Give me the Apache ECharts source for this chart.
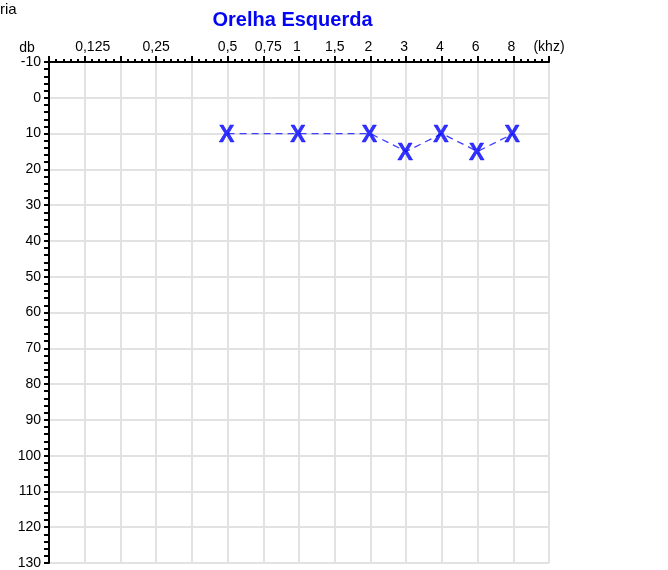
<!DOCTYPE html>
<html>
<head>
<meta charset="utf-8">
<script src="https://cdn.jsdelivr.net/npm/echarts@6/dist/echarts.min.js"></script>
<style>html,body{margin:0;padding:0;background:#fff;}#c{width:668px;height:570px;}</style>
</head>
<body>
<div id="c"></div>
<script>
const tickLabels = ['', '0,125', '', '0,25', '', '0,5', '0,75', '1', '1,5', '2', '3', '4', '6', '8', '(khz)'];
const freqs = ['0,5', '1', '2', '3', '4', '6', '8'];
const thresholds = [10, 10, 10, 15, 10, 15, 10];
const yMin = -10, yMax = 130, yStep = 10;

const points = freqs.map((f, i) => [tickLabels.indexOf(f), thresholds[i]]);
const FONT = 'Arial, "Liberation Sans", sans-serif';

const chart = echarts.init(document.getElementById('c'), null, {renderer: 'canvas'});
chart.setOption({
  animation: false,
  backgroundColor: '#fff',
  grid: {left: 49, top: 62, width: 500, height: 502, containLabel: false},
  graphic: [
    {type: 'text', left: 0, top: 2, style: {text: 'ria', font: '15px ' + FONT, fill: '#000'}},
    {type: 'text', x: 292.5, y: 20, style: {text: 'Orelha Esquerda', font: 'bold 20px ' + FONT, fill: '#0505f5', textAlign: 'center', textVerticalAlign: 'middle'}},
    {type: 'text', x: 27, y: 48, style: {text: 'db', font: '14px ' + FONT, fill: '#000', textAlign: 'center', textVerticalAlign: 'middle'}}
  ],
  xAxis: {
    type: 'value', position: 'top', min: 0, max: tickLabels.length - 1, interval: 1,
    axisLine: {show: true, onZero: false, lineStyle: {color: '#000', width: 2}},
    axisTick: {show: true, inside: false, length: 6, lineStyle: {color: '#000', width: 2}},
    minorTick: {show: true, splitNumber: 5, length: 3, lineStyle: {color: '#000', width: 2}},
    splitLine: {show: true, lineStyle: {color: '#e2e2e2', width: 2}},
    axisLabel: {
      margin: 8, color: '#000', fontSize: 14, fontFamily: FONT, showMinLabel: true, showMaxLabel: true,
      formatter: function (v) {
        const t = tickLabels[Math.round(v)] || '';
        if (t === '0,125') return '{r8|' + t + '}';
        if (t === '0,75') return '{r5|' + t + '}';
        if (t.length === 1) return '{l2|' + t + '}';
        return t;
      },
      rich: {
        r8: {fontSize: 14, fontFamily: FONT, color: '#000', padding: [0, 0, 0, 16]},
        r5: {fontSize: 14, fontFamily: FONT, color: '#000', padding: [0, 0, 0, 10]},
        l2: {fontSize: 14, fontFamily: FONT, color: '#000', padding: [0, 4, 0, 0]}
      }
    }
  },
  yAxis: {
    type: 'value', inverse: true, min: yMin, max: yMax, interval: yStep,
    axisLine: {show: true, onZero: false, lineStyle: {color: '#000', width: 2}},
    axisTick: {show: true, inside: false, length: 5, lineStyle: {color: '#000', width: 2}},
    minorTick: {show: true, splitNumber: 5, length: 5, lineStyle: {color: '#000', width: 2}},
    splitLine: {show: true, lineStyle: {color: '#e2e2e2', width: 2}},
    axisLabel: {margin: 8, color: '#000', fontSize: 14, fontFamily: FONT, showMinLabel: true, showMaxLabel: true}
  },
  series: [
    {
      type: 'line', data: points, symbol: 'none', silent: true,
      lineStyle: {color: '#4040ff', width: 1.3, type: [7, 5]}, z: 3
    },
    {
      type: 'scatter', data: points, symbol: 'circle', symbolSize: 1, silent: true,
      itemStyle: {color: 'rgba(0,0,0,0)'}, z: 4,
      label: {show: true, position: 'inside', formatter: 'X', offset: [-1, 2], color: '#0000ff', fontSize: 23, fontWeight: 'bold', fontFamily: FONT, textBorderColor: '#0000ff', textBorderWidth: 0.5}
    }
  ]
});
</script>
</body>
</html>
